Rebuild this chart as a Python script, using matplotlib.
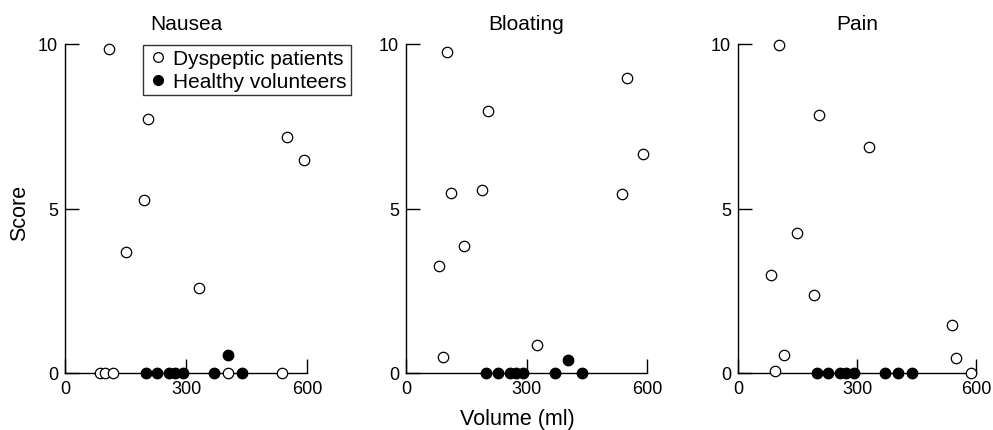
import matplotlib
matplotlib.use("Agg")
import matplotlib.pyplot as plt
from matplotlib.lines import Line2D

plt.rcParams['font.family'] = ['Liberation Sans', 'DejaVu Sans']

titles = ['Nausea', 'Bloating', 'Pain']

# healthy volunteers: volume (ml) and score for each symptom
vol_healthy = [200, 228, 258, 273, 292, 370, 403, 438]
nausea_healthy = [0, 0, 0, 0, 0, 0, 0.56, 0]
bloating_healthy = [0, 0, 0, 0, 0, 0, 0.38, 0]
pain_healthy = [0, 0, 0, 0, 0, 0, 0, 0]

# dyspeptic patients (read per panel)
nausea_vol = [108, 207, 551, 592, 195, 151, 333, 86, 99, 118, 404, 539]
nausea_score = [9.85, 7.72, 7.17, 6.46, 5.27, 3.67, 2.58, 0, 0, 0, 0, 0]
bloating_vol = [102, 549, 203, 589, 113, 190, 539, 145, 83, 91, 326]
bloating_score = [9.76, 8.96, 7.96, 6.65, 5.46, 5.56, 5.45, 3.85, 3.26, 0.48, 0.84]
pain_vol = [103, 205, 329, 148, 84, 192, 539, 115, 550, 93, 588]
pain_score = [9.98, 7.85, 6.87, 4.26, 2.97, 2.36, 1.47, 0.56, 0.46, 0.05, 0]

patients = [(nausea_vol, nausea_score), (bloating_vol, bloating_score),
            (pain_vol, pain_score)]
healthy = [nausea_healthy, bloating_healthy, pain_healthy]

W, H = 993, 431
fig = plt.figure(figsize=(W / 100, H / 100), dpi=100)

lefts = [65, 406, 738]
widths = [242, 241, 238]
top, bottom = 45, 374

for i in range(3):
    ax = fig.add_axes([lefts[i] / W, (H - bottom) / H, widths[i] / W, (bottom - top) / H])
    ax.set_xlim(0, 600)
    ax.set_ylim(0, 10)
    for s in ['top', 'right']:
        ax.spines[s].set_visible(False)
    for s in ['left', 'bottom']:
        ax.spines[s].set_linewidth(1.0)
    ax.set_xticks([0, 300, 600])
    ax.set_yticks([0, 5, 10])
    ax.tick_params(direction='in', length=10, width=1.0, labelsize=13, pad=5)
    pv, ps = patients[i]
    ax.plot(pv, ps, ls='none', marker='o', ms=7.5, mfc='white', mec='black',
            mew=0.9, clip_on=False, zorder=4)
    ax.plot(vol_healthy, healthy[i], ls='none', marker='o', ms=7.5, mfc='black',
            mec='black', clip_on=False, zorder=5)
    ax.set_title(titles[i], fontsize=15, pad=11)
    if i == 0:
        handles = [Line2D([], [], ls='none', marker='o', ms=7, mfc='white', mec='black', mew=0.9),
                   Line2D([], [], ls='none', marker='o', ms=7, mfc='black', mec='black')]
        leg = ax.legend(handles, ['Dyspeptic patients', 'Healthy volunteers'],
                        loc='upper left', bbox_to_anchor=(78 / 242, 0.997),
                        fontsize=15, frameon=True, fancybox=False, edgecolor='black',
                        handletextpad=0.25, handlelength=1.0, borderpad=0.2,
                        labelspacing=0.2, borderaxespad=0)
        leg.get_frame().set_linewidth(1.0)

fig.text(20 / W, 1 - 213 / H, 'Score', rotation=90, ha='center', va='center', fontsize=15.5)
fig.text(517 / W, 1 - 420 / H, 'Volume (ml)', ha='center', va='center', fontsize=15.5)

fig.savefig('out.png', dpi=100)
